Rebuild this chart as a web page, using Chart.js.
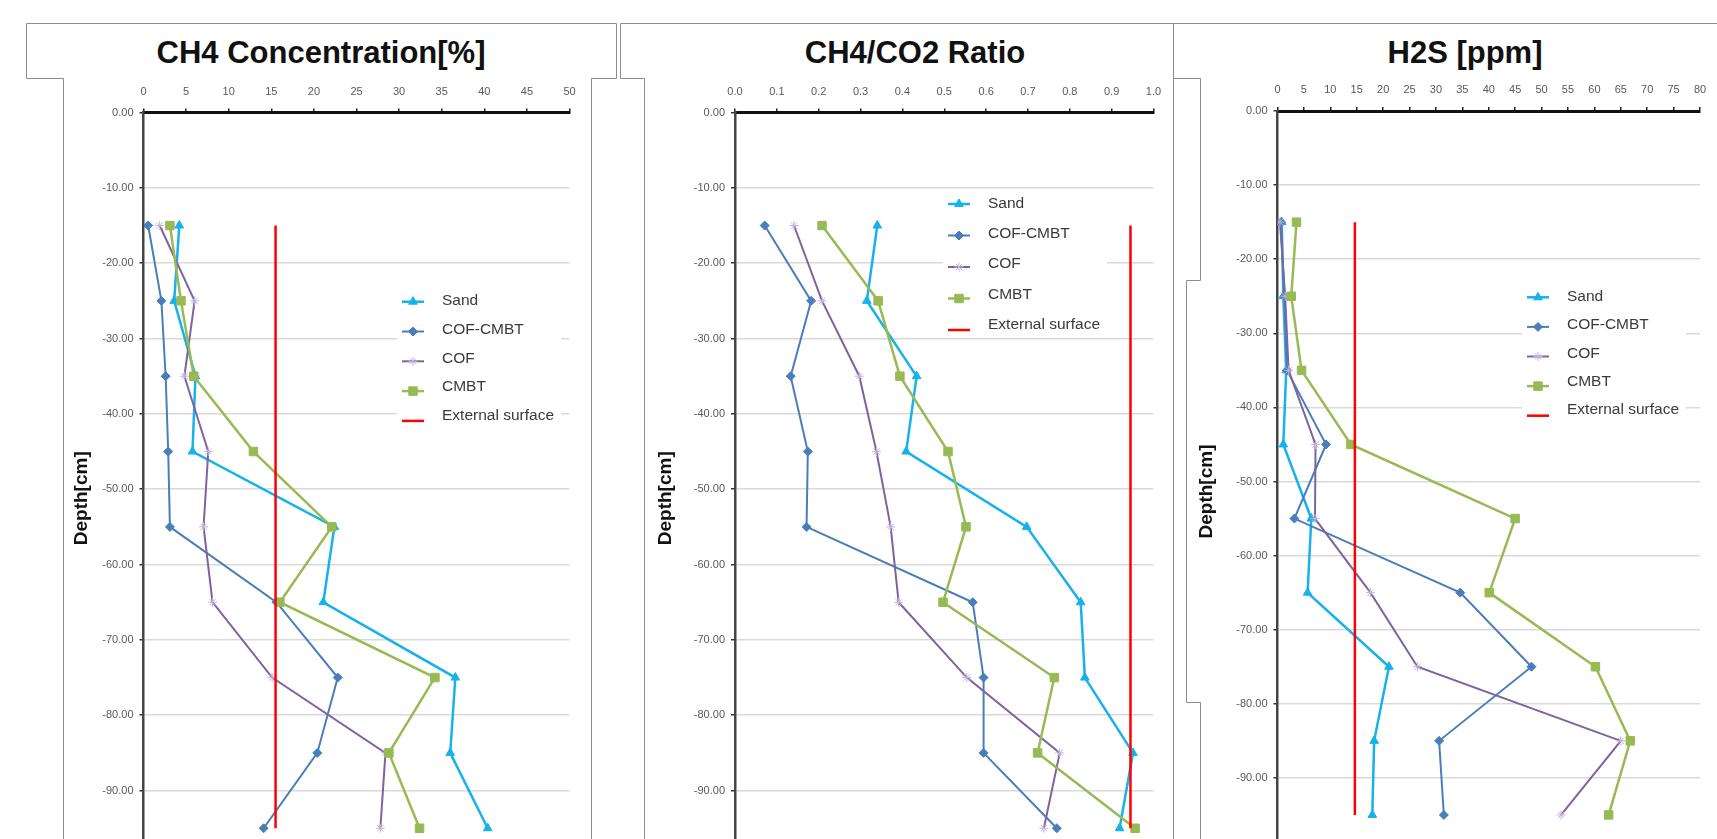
<!DOCTYPE html>
<html>
<head>
<meta charset="utf-8">
<title>CH4 / CH4-CO2 / H2S depth profiles</title>
<script src="https://cdn.jsdelivr.net/npm/chart.js@4.4.1/dist/chart.umd.min.js"></script>
<style>
    html, body {
        margin: 0;
        padding: 0;
        width: 1717px;
        height: 839px;
        overflow: hidden;
        background: #ffffff;
    }
    .panel {
        position: absolute;
    }
    .title {
        position: absolute;
        top: 36.5px;
        width: 600px;
        text-align: center;
        white-space: nowrap;
        font: bold 31px "Liberation Sans", Arial, sans-serif;
        line-height: 31px;
        color: #111111;
    }
    svg.frames {
        position: absolute;
        left: 0;
        top: 0;
        pointer-events: none;
    }
</style>
</head>
<body>

<div class="title" style="left: 21px;">CH4 Concentration[%]</div>
<div class="title" style="left: 615px;">CH4/CO2 Ratio</div>
<div class="title" style="left: 1165px;">H2S [ppm]</div>

<div class="panel" style="left: 63px; top: 78px;"><canvas id="c1" width="528" height="806"></canvas></div>
<div class="panel" style="left: 644px; top: 78px;"><canvas id="c2" width="528" height="806"></canvas></div>
<div class="panel" style="left: 1186px; top: 78px;"><canvas id="c3" width="531" height="794"></canvas></div>

<svg class="frames" width="1717" height="839">
    <g fill="none" stroke="#8c8c8c" stroke-width="1">
        <polyline points="63.5,839 63.5,78.5 26.5,78.5 26.5,23.5 616.5,23.5 616.5,78.5 591.5,78.5 591.5,839"/>
        <polyline points="644.5,839 644.5,78.5 620.5,78.5 620.5,23.5 1717,23.5"/>
        <polyline points="1173.5,23.5 1173.5,839"/>
        <polyline points="1173.5,78.5 1200.5,78.5 1200.5,280.5 1186.5,280.5 1186.5,702.5 1200.5,702.5 1200.5,839"/>
    </g>
</svg>

<script>
// depth of every sample (cm)
const depths = [-15, -25, -35, -45, -55, -65, -75, -85, -95];
const seriesNames = ['Sand', 'COF-CMBT', 'COF', 'CMBT', 'External surface'];

// CH4 concentration [%]
const ch4Sand    = [4.2, 3.6, 6.1, 5.75, 22.4, 21.1, 36.6, 36.0, 40.4];
const ch4CofCmbt = [0.55, 2.1, 2.6, 2.9, 3.1, 15.6, 22.8, 20.4, 14.1];
const ch4Cof     = [1.9, 6.0, 4.8, 7.6, 7.05, 8.1, 15.1, 28.4, 27.8];
const ch4Cmbt    = [3.1, 4.4, 5.9, 12.9, 22.1, 16.0, 34.2, 28.8, 32.4];
const ch4Surface = 15.5;

// CH4/CO2 ratio
const ratioSand    = [0.34, 0.315, 0.434, 0.409, 0.697, 0.826, 0.836, 0.951, 0.919];
const ratioCofCmbt = [0.071, 0.182, 0.133, 0.174, 0.171, 0.568, 0.594, 0.594, 0.769];
const ratioCof     = [0.141, 0.208, 0.297, 0.338, 0.372, 0.391, 0.554, 0.776, 0.738];
const ratioCmbt    = [0.208, 0.342, 0.394, 0.509, 0.552, 0.497, 0.763, 0.723, 0.956];
const ratioSurface = 0.945;

// H2S [ppm]
const h2sSand    = [0.8, 1.1, 1.65, 1.1, 6.4, 5.7, 21.1, 18.3, 17.95];
const h2sCofCmbt = [0.66, 1.3, 1.8, 9.2, 3.2, 34.6, 48.1, 30.6, 31.5];
const h2sCof     = [0.46, 1.45, 2.1, 7.2, 7.1, 17.6, 26.5, 65.0, 53.7];
const h2sCmbt    = [3.6, 2.6, 4.55, 13.9, 45.0, 40.1, 60.2, 66.8, 62.7];
const h2sSurface = 14.65;

// axis ranges: [min, max, step]
const ch4Axis   = [0, 50, 5];
const ratioAxis = [0, 1, 0.1];
const h2sAxis   = [0, 80, 5];
const depthStep = 10;

const seriesStyle = [
    { color: '#17b1ec', marker: 'triangle', radius: 5,   width: 2.5, markerColor: '#17b1ec' },
    { color: '#4a7ebb', marker: 'rectRot',  radius: 4.5, width: 2,   markerColor: '#4a7ebb' },
    { color: '#7f62a1', marker: 'star',     radius: 4.5, width: 2,   markerColor: '#c2b3da' },
    { color: '#97ba55', marker: 'rect',     radius: 6,   width: 2.5, markerColor: '#97ba55' }
];
const surfaceColor = '#ff0000';

const tickFont = { family: '"Liberation Sans", Arial, sans-serif', size: 11 };
const tickColor = '#595959';

/**
 * Legend drawn inside the plot area on a white box, like the spreadsheet original.
 */
const insetLegend = {
    id: 'insetLegend',
    afterDraw(chart, args, opts) {
        const ctx = chart.ctx;
        const sets = chart.data.datasets;
        const n = sets.length;
        const top = opts.textTop - 14;
        const bottom = opts.symTop + (n - 1) * opts.symGap + 8;

        ctx.save();
        ctx.fillStyle = '#ffffff';
        ctx.fillRect(opts.left, top, opts.width, bottom - top);

        sets.forEach((ds, i) => {
            const sy = opts.symTop + i * opts.symGap;
            const sx = opts.left + 5;

            ctx.strokeStyle = ds.borderColor;
            ctx.lineWidth = ds.borderWidth;
            ctx.beginPath();
            ctx.moveTo(sx, sy);
            ctx.lineTo(sx + 22, sy);
            ctx.stroke();

            if (ds.pointRadius > 0) {
                ctx.fillStyle = ds.pointBackgroundColor;
                ctx.strokeStyle = ds.pointBorderColor;
                ctx.lineWidth = ds.pointBorderWidth;
                Chart.helpers.drawPoint(ctx, {
                    pointStyle: ds.pointStyle,
                    radius: ds.pointRadius,
                    rotation: 0,
                    borderWidth: ds.pointBorderWidth
                }, sx + 11, sy);
            }

            ctx.fillStyle = '#3a3a3a';
            ctx.font = '15.5px "Liberation Sans", Arial, sans-serif';
            ctx.textBaseline = 'middle';
            ctx.textAlign = 'left';
            ctx.fillText(ds.label, opts.left + 45, opts.textTop + i * opts.textGap);
        });
        ctx.restore();
    }
};

function buildDatasets(seriesValues, surface) {
    const sets = seriesValues.map((vals, i) => {
        const st = seriesStyle[i];
        return {
            label: seriesNames[i],
            data: vals.map((v, k) => ({ x: v, y: depths[k] })),
            showLine: true,
            borderColor: st.color,
            backgroundColor: st.markerColor,
            borderWidth: st.width,
            pointStyle: st.marker,
            pointRadius: st.radius,
            pointBackgroundColor: st.markerColor,
            pointBorderColor: st.markerColor,
            pointBorderWidth: 1,
            order: 5 - i
        };
    });
    sets.push({
        label: seriesNames[4],
        data: [{ x: surface, y: depths[0] }, { x: surface, y: depths[depths.length - 1] }],
        showLine: true,
        borderColor: surfaceColor,
        backgroundColor: surfaceColor,
        borderWidth: 2.5,
        pointRadius: 0,
        order: 1
    });
    return sets;
}

function makePanel(canvasId, datasets, xAxis, xDecimals, geo) {
    return new Chart(document.getElementById(canvasId), {
        type: 'scatter',
        data: { datasets: datasets },
        plugins: [insetLegend],
        options: {
            responsive: false,
            animation: false,
            devicePixelRatio: 1,
            layout: {
                autoPadding: false,
                padding: { left: 0, top: 0, right: geo.padRight, bottom: 0 }
            },
            plugins: {
                legend: { display: false },
                tooltip: { enabled: false },
                insetLegend: geo.legend
            },
            scales: {
                x: {
                    type: 'linear',
                    position: 'top',
                    min: xAxis[0],
                    max: xAxis[1],
                    ticks: {
                        stepSize: xAxis[2],
                        font: tickFont,
                        color: tickColor,
                        padding: 10,
                        maxRotation: 0,
                        autoSkip: false,
                        callback: v => Number(v).toFixed(xDecimals)
                    },
                    grid: {
                        drawOnChartArea: false,
                        tickLength: 4,
                        tickColor: '#222222',
                        lineWidth: 1.5
                    },
                    border: { color: '#111111', width: 3 },
                    afterFit: s => { s.height = geo.axisH; }
                },
                y: {
                    type: 'linear',
                    min: geo.yMin,
                    max: 0,
                    ticks: {
                        stepSize: depthStep,
                        font: tickFont,
                        color: tickColor,
                        padding: 6,
                        autoSkip: false,
                        callback: v => Number(v).toFixed(2)
                    },
                    grid: {
                        color: '#d9d9d9',
                        lineWidth: 1.5,
                        tickLength: 4,
                        tickColor: '#333333'
                    },
                    border: { color: '#454545', width: 2.5 },
                    title: {
                        display: true,
                        text: 'Depth[cm]',
                        color: '#111111',
                        font: { family: '"Liberation Sans", Arial, sans-serif', size: 19, weight: 'bold' },
                        padding: { top: geo.titlePad, bottom: 0 }
                    },
                    afterFit: s => {
                        s.width = geo.axisW;
                        s.paddingTop = 0;
                        s.paddingBottom = 0;
                    }
                }
            }
        }
    });
}

makePanel('c1',
    buildDatasets([ch4Sand, ch4CofCmbt, ch4Cof, ch4Cmbt], ch4Surface),
    ch4Axis, 0,
    {
        yMin: -102.4, axisW: 80.5, axisH: 34.5, padRight: 21.5, titlePad: 7.6,
        legend: { left: 334, width: 164, textTop: 222.7, textGap: 28.8, symTop: 223.7, symGap: 29.8 }
    });

makePanel('c2',
    buildDatasets([ratioSand, ratioCofCmbt, ratioCof, ratioCmbt], ratioSurface),
    ratioAxis, 1,
    {
        yMin: -102.4, axisW: 91, axisH: 34.5, padRight: 18.5, titlePad: 10.6,
        legend: { left: 299, width: 164, textTop: 126, textGap: 30.1, symTop: 126, symGap: 31.5 }
    });

makePanel('c3',
    buildDatasets([h2sSand, h2sCofCmbt, h2sCof, h2sCmbt], h2sSurface),
    h2sAxis, 0,
    {
        yMin: -102.7, axisW: 91.5, axisH: 33, padRight: 17, titlePad: 9.2,
        legend: { left: 336, width: 164, textTop: 218.7, textGap: 28.3, symTop: 219.3, symGap: 29.6 }
    });
</script>
</body>
</html>
